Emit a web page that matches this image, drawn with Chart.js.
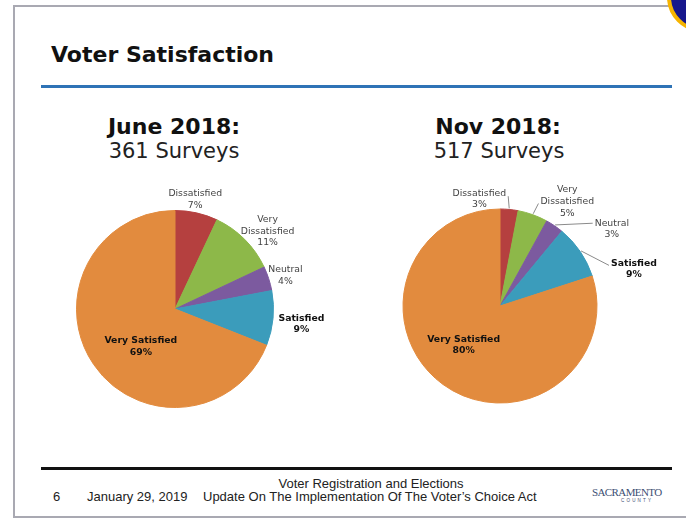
<!DOCTYPE html>
<html><head><meta charset="utf-8">
<script src="https://cdn.jsdelivr.net/npm/chart.js@4.4.0/dist/chart.umd.min.js"></script>
<style>
html,body{margin:0;padding:0;background:#fff;width:686px;height:522px;overflow:hidden;position:relative;font-family:"DejaVu Sans",Verdana,sans-serif;}
.t{position:absolute;white-space:nowrap;line-height:1;}
#slide{position:absolute;left:13px;top:5px;width:760px;height:513px;border:2px solid #a9a9b2;border-right:none;box-sizing:border-box;}
#seal{position:absolute;left:667px;top:-38px;width:70px;height:70px;border-radius:50%;background:#17178c;border:4px solid #f6b400;box-sizing:border-box;}
#blue{position:absolute;left:41px;top:85px;width:631px;height:3px;background:#2e73b6;}
#black{position:absolute;left:41px;top:467px;width:631px;height:3px;background:#111;}
canvas{position:absolute;}
.foot{font-family:"Liberation Sans",Arial,sans-serif;font-size:13px;color:#222;}
</style></head>
<body>
<div id="slide"></div>
<div id="seal"></div>
<div class="t" style="left:51px;top:44px;font-size:22px;font-weight:bold;color:#111;">Voter Satisfaction</div>
<div id="blue"></div>
<div class="t" style="left:74px;width:200px;text-align:center;top:116px;font-size:22px;font-weight:bold;color:#111;">June 2018:</div>
<div class="t" style="left:74px;width:200px;text-align:center;top:141px;font-size:21px;color:#222;">361 Surveys</div>
<div class="t" style="left:398px;width:200px;text-align:center;top:116px;font-size:22px;font-weight:bold;color:#111;">Nov 2018:</div>
<div class="t" style="left:399px;width:200px;text-align:center;top:141px;font-size:21px;color:#222;">517 Surveys</div>
<canvas id="c1" width="300" height="300" style="left:25px;top:159px;width:300px;height:300px;"></canvas>
<canvas id="c2" width="336" height="300" style="left:350px;top:156px;width:336px;height:300px;"></canvas>
<div id="black"></div>
<div class="t foot" style="left:221px;width:300px;text-align:center;top:477px;">Voter Registration and Elections</div>
<div class="t foot" style="left:53px;top:490px;">6</div>
<div class="t foot" style="left:87px;top:490px;">January 29, 2019</div>
<div class="t foot" style="left:203px;top:490px;">Update On The Implementation Of The Voter’s Choice Act</div>
<div class="t" style="left:592px;top:487px;font-family:'Liberation Serif',serif;font-size:11px;color:#3d4f73;letter-spacing:-0.6px;">SACRAMENTO</div>
<div class="t" style="left:621px;top:499px;font-family:'Liberation Sans',sans-serif;font-size:4.5px;color:#3d4f73;letter-spacing:2.2px;">COUNTY</div>

<script>
const categories = ['Dissatisfied', 'Very Dissatisfied', 'Neutral', 'Satisfied', 'Very Satisfied'];
const june2018 = [7, 11, 4, 9, 69];
const nov2018 = [3, 5, 3, 9, 80];
const sliceColors = ['#B5403F', '#8DB849', '#7C5A9F', '#3B9CBB', '#E28B3E'];

const wrapLines = [false, true, false, false, false];
const boldLabel = [false, false, false, true, true];

const sliceLabels = {
  id: 'sliceLabels',
  afterDatasetsDraw(chart, args, opts) {
    const ctx = chart.ctx;
    const meta = chart.getDatasetMeta(0);
    const ds = chart.data.datasets[0];
    const lh = 11.6;
    meta.data.forEach((arc, i) => {
      const p = opts.place[i];
      const {x, y, startAngle, endAngle, outerRadius} = arc.getProps(['x','y','startAngle','endAngle','outerRadius'], true);
      const mid = (startAngle + endAngle) / 2;
      const lx = x + Math.cos(mid) * p.r + p.dx;
      const ly = y + Math.sin(mid) * p.r + p.dy;
      const name = chart.data.labels[i];
      const lines = (wrapLines[i] ? name.split(' ') : [name]).concat([ds.data[i] + '%']);
      ctx.save();
      ctx.font = (boldLabel[i] ? 'bold ' : '') + '9.3px "DejaVu Sans", Verdana, sans-serif';
      ctx.fillStyle = boldLabel[i] ? '#111' : '#444';
      ctx.textAlign = 'center';
      ctx.textBaseline = 'middle';
      const n = lines.length;
      lines.forEach((s, k) => ctx.fillText(s, lx, ly + (k - (n - 1) / 2) * lh));
      if (p.leader) {
        const li = p.leader.line;
        const w = ctx.measureText(lines[li]).width;
        const ay = ly + (li - (n - 1) / 2) * lh + (p.leader.ddy || 0);
        const ax = p.leader.side === 'right' ? lx + w / 2 + 2 : lx - w / 2 - 2;
        const ex = x + Math.cos(mid) * (outerRadius + 1);
        const ey = y + Math.sin(mid) * (outerRadius + 1);
        ctx.strokeStyle = '#8a8a8a';
        ctx.lineWidth = 1;
        ctx.beginPath();
        ctx.moveTo(ex, ey);
        ctx.lineTo(ax, ay);
        ctx.stroke();
      }
      ctx.restore();
    });
  }
};

function makePie(id, values, pad, place) {
  return new Chart(document.getElementById(id), {
    type: 'pie',
    data: {
      labels: categories,
      datasets: [{
        data: values,
        backgroundColor: sliceColors,
        borderColor: sliceColors,
        borderWidth: 1,
        hoverOffset: 0
      }]
    },
    options: {
      responsive: false,
      animation: false,
      events: [],
      layout: { padding: pad },
      plugins: {
        legend: { display: false },
        tooltip: { enabled: false },
        sliceLabels: { place: place }
      }
    },
    plugins: [sliceLabels]
  });
}

makePie('c1', june2018, 51, [
  { r: 111, dx: -4, dy: -1 },
  { r: 121, dx: 7, dy: 8 },
  { r: 115, dx: 1, dy: 2 },
  { r: 127, dx: 0, dy: 3 },
  { r: 51, dx: 8, dy: 9 }
]);

makePie('c2', nov2018, { left: 52.5, right: 88.5, top: 52.5, bottom: 52.5 }, [
  { r: 110, dx: -31, dy: 2.5, leader: { line: 0, side: 'right', ddy: 3 } },
  { r: 110, dx: 30, dy: -1, leader: { line: 1, side: 'left', ddy: 2 } },
  { r: 110, dx: 50, dy: 14, leader: { line: 0, side: 'left' } },
  { r: 110, dx: 43, dy: 25, leader: { line: 0, side: 'left', ddy: 2 } },
  { r: 50, dx: -7, dy: -1.5 }
]);
</script>
</body></html>
